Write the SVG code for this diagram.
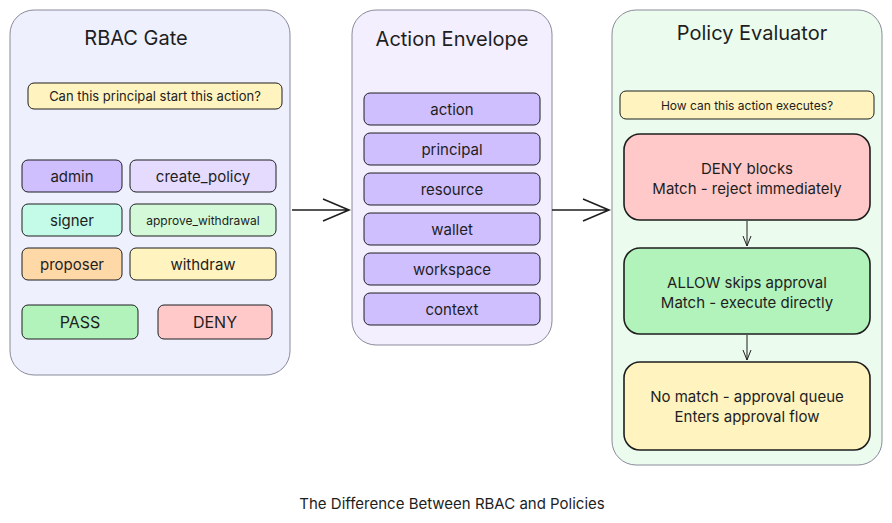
<svg xmlns="http://www.w3.org/2000/svg" width="892" height="523" viewBox="0 0 892 523">
<style>
text{font-family:Inter,"Noto Sans",sans-serif;fill:#1e1e1e;text-anchor:middle;dominant-baseline:central}
.panel{stroke:#8a8a9a;stroke-width:1}
.b{stroke:#1e1e1e;stroke-width:1}
.big{stroke:#1e1e1e;stroke-width:1.6}
.t{font-size:20px}
.s{font-size:15px}
.n{font-size:13px}
.c{stroke:#1e1e1e;stroke-width:1.6;fill:none}
.c2{stroke:#1e1e1e;stroke-width:1;fill:none}
</style>
<rect width="892" height="523" fill="#fff"/>
<g id="rbac">
<rect class="panel" x="10" y="10" width="280" height="365" rx="24" fill="#eef0fd"/>
<text class="t" x="136" y="38">RBAC Gate</text>
<rect class="b" x="28" y="83" width="254" height="26" rx="6" fill="#fff3bf"/>
<text class="n" x="155" y="96">Can this principal start this action?</text>
<rect class="b" x="22" y="160" width="100" height="32" rx="6" fill="#d0bfff"/><text class="s" x="72" y="176">admin</text>
<rect class="b" x="130" y="160" width="146" height="32" rx="6" fill="#e5dbff"/><text class="s" x="203" y="176">create_policy</text>
<rect class="b" x="22" y="204" width="100" height="32" rx="6" fill="#c3fae8"/><text class="s" x="72" y="220">signer</text>
<rect class="b" x="130" y="204" width="146" height="32" rx="6" fill="#d3f9d8"/><text x="203" y="220" font-size="12">approve_withdrawal</text>
<rect class="b" x="22" y="248" width="100" height="32" rx="6" fill="#ffd8a8"/><text class="s" x="72" y="264">proposer</text>
<rect class="b" x="130" y="248" width="146" height="32" rx="6" fill="#fff3bf"/><text class="s" x="203" y="264">withdraw</text>
<rect class="b" x="22" y="305" width="116" height="34" rx="6" fill="#b2f2bb"/><text x="80" y="322" font-size="16">PASS</text>
<rect class="b" x="158" y="305" width="114" height="34" rx="6" fill="#ffc9c9"/><text x="215" y="322" font-size="16">DENY</text>
</g>
<g id="envelope">
<rect class="panel" x="352" y="10" width="200" height="335" rx="24" fill="#f3efff"/>
<text class="t" x="452" y="39">Action Envelope</text>
<rect class="b" x="364" y="93" width="176" height="32" rx="6" fill="#d0bfff"/><text class="s" x="452" y="109">action</text>
<rect class="b" x="364" y="133" width="176" height="32" rx="6" fill="#d0bfff"/><text class="s" x="452" y="149">principal</text>
<rect class="b" x="364" y="173" width="176" height="32" rx="6" fill="#d0bfff"/><text class="s" x="452" y="189">resource</text>
<rect class="b" x="364" y="213" width="176" height="32" rx="6" fill="#d0bfff"/><text class="s" x="452" y="229">wallet</text>
<rect class="b" x="364" y="253" width="176" height="32" rx="6" fill="#d0bfff"/><text class="s" x="452" y="269">workspace</text>
<rect class="b" x="364" y="293" width="176" height="32" rx="6" fill="#d0bfff"/><text class="s" x="452" y="309">context</text>
</g>
<g id="policy">
<rect class="panel" x="612" y="10" width="270" height="455" rx="24" fill="#ebfbee"/>
<text class="t" x="752" y="33">Policy Evaluator</text>
<rect class="b" x="620" y="91" width="254" height="28" rx="6" fill="#fff3bf"/>
<text x="747" y="105" font-size="12">How can this action executes?</text>
<rect class="big" x="624" y="134" width="246" height="86" rx="16" fill="#ffc9c9"/>
<text class="s" x="747" y="168">DENY blocks</text><text class="s" x="747" y="188">Match - reject immediately</text>
<rect class="big" x="624" y="248" width="246" height="86" rx="16" fill="#b2f2bb"/>
<text class="s" x="747" y="282">ALLOW skips approval</text><text class="s" x="747" y="302">Match - execute directly</text>
<rect class="big" x="624" y="362" width="246" height="88" rx="16" fill="#fff3bf"/>
<text class="s" x="747" y="396">No match - approval queue</text><text class="s" x="747" y="416">Enters approval flow</text>
</g>
<g id="connectors">
<path class="c" d="M292 210H349M323 199L349 210L323 221"/>
<path class="c" d="M552 210H609M583 199L609 210L583 221"/>
<path class="c2" d="M747 221V246M743 236L747 246L751 236"/>
<path class="c2" d="M747 335V360M743 350L747 360L751 350"/>
</g>
<text x="452" y="503" font-size="15">The Difference Between RBAC and Policies</text>
</svg>
